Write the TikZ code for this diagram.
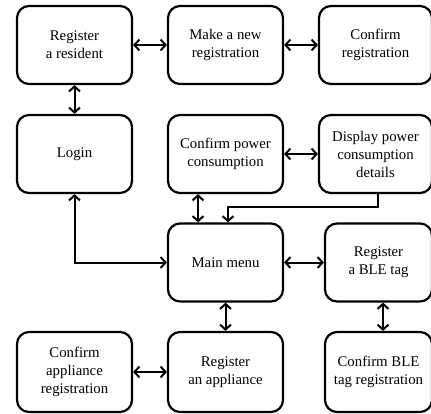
\documentclass[tikz,border=0pt]{standalone}
\usepackage{fontspec}
\setmainfont{Liberation Serif}
\usetikzlibrary{arrows.meta}
\begin{document}
\begin{tikzpicture}[x=1pt,y=1pt,
  box/.style={draw, line width=2.2pt, rounded corners=12pt, minimum width=115pt,
    minimum height=78pt, align=center, inner sep=2pt,
    font=\fontsize{14.8}{18}\selectfont},
  link/.style={line width=2pt, >={Straight Barb[length=5pt,width=11pt,line width=2pt]}}]
\path[use as bounding box] (0,0) rectangle (431,-413);

% first row
\node[box] (res) at (74.5,-45) {Register\\a resident};
\node[box] (newreg) at (225.5,-45) {Make a new\\registration};
\node[box, minimum width=113pt] (confreg) at (375.5,-45) {Confirm\\registration};

% second row
\node[box] (login) at (74.5,-154) {Login};
\node[box] (confpow) at (225.5,-154) {Confirm power\\consumption};
\node[box, minimum width=113pt] (dispow) at (375.5,-154) {Display power\\consumption\\details};

% third row
\node[box] (menu) at (225.5,-262.5) {Main menu};
\node[box, minimum width=107pt] (ble) at (378.5,-262.5) {Register\\a BLE tag};

% fourth row
\node[box, minimum height=80pt] (confapp) at (74.5,-372) {Confirm\\appliance\\registration};
\node[box, minimum height=80pt] (regapp) at (225.5,-372) {Register\\an appliance};
\node[box, minimum width=107pt, minimum height=80pt] (confble) at (378.5,-372) {Confirm BLE\\tag registration};

% connectors
\draw[link,<->] (res) -- (newreg);
\draw[link,<->] (newreg) -- (confreg);
\draw[link,<->] (res) -- (login);
\draw[link,<->] (confpow) -- (dispow);
\draw[link,<->] ([xshift=-27.5pt]confpow.south) -- ([xshift=-27.5pt]menu.north);
\draw[link,->] ([xshift=2.5pt]dispow.south) -- ++(0,-13) -| ([xshift=2.5pt]menu.north);
\draw[link,<->] (login.south) |- (menu.west);
\draw[link,<->] (menu) -- (ble);
\draw[link,<->] (menu) -- (regapp);
\draw[link,<->] ([xshift=4.5pt]ble.south) -- ([xshift=4.5pt]confble.north);
\draw[link,<->] (confapp) -- (regapp);
\end{tikzpicture}
\end{document}
